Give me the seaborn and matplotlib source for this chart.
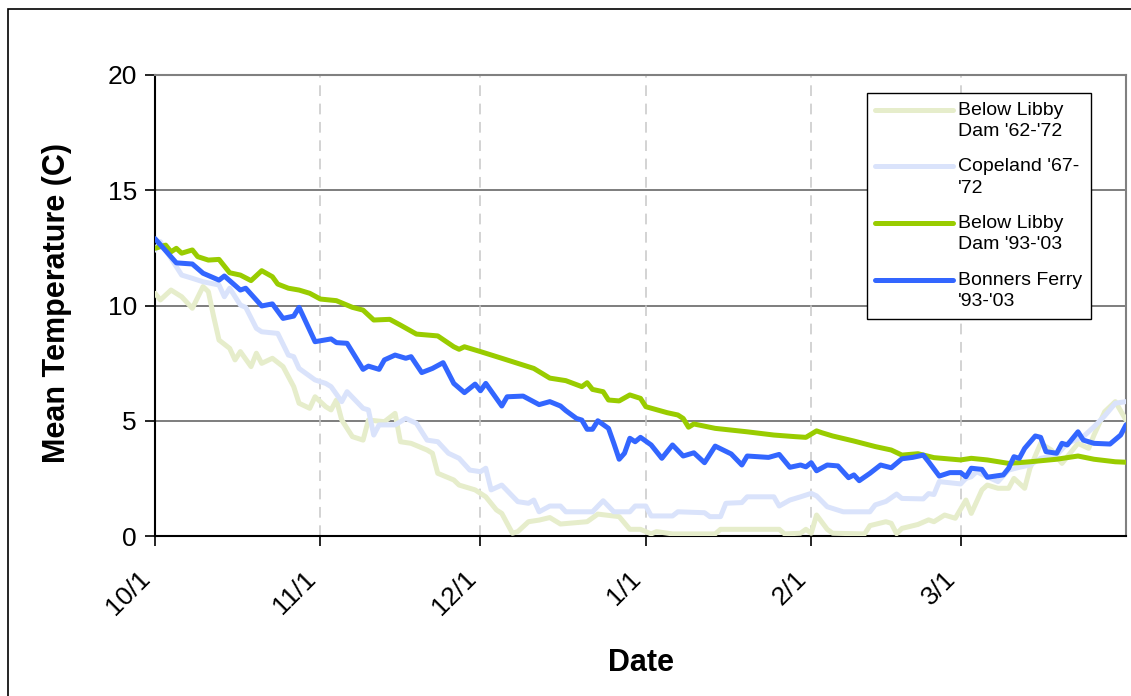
import pandas as pd
import matplotlib.pyplot as plt
import matplotlib.patches as mpatches
from matplotlib.legend_handler import HandlerLine2D
from matplotlib.transforms import ScaledTranslation
import seaborn as sns

sns.set_theme(style='white')
plt.rcParams['font.family'] = ['Liberation Sans', 'DejaVu Sans']
plt.rcParams['text.color'] = 'black'
plt.rcParams['axes.labelcolor'] = 'black'
plt.rcParams['xtick.color'] = 'black'
plt.rcParams['ytick.color'] = 'black'

# ---- data: day = days after 10/1, temp in C ----
libby62_day = [0, 1, 3, 5, 7, 9, 10, 11, 12, 14, 15, 16, 18, 19, 20, 22, 24, 26, 27, 29,
               30, 32, 33, 34, 35, 37, 39, 40, 43, 45, 46, 48, 51, 52, 53, 56, 57, 60, 62, 64,
               65, 67, 68, 70, 72, 74, 76, 81, 83, 87, 89, 91, 93, 94, 97, 105, 106, 117, 118, 121,
               122, 123, 124, 126, 127, 133, 134, 137, 138, 139, 140, 143, 145, 146, 148, 150, 152, 153, 154, 155,
               156, 158, 160, 161, 163, 164, 166, 168, 170, 173, 175, 176, 178, 180, 182]
libby62_temp = [10.53, 10.24, 10.67, 10.38, 9.88, 10.82, 10.6, 9.51, 8.5, 8.14, 7.64, 8.0, 7.35, 7.93, 7.49, 7.71, 7.35, 6.48, 5.76, 5.54,
                6.04, 5.61, 5.47, 5.9, 5.03, 4.31, 4.16, 5.03, 4.96, 5.32, 4.09, 4.02, 3.73, 3.59, 2.72, 2.43, 2.21, 2.0, 1.7, 1.13,
                0.98, 0.12, 0.19, 0.62, 0.69, 0.8, 0.52, 0.62, 0.95, 0.84, 0.29, 0.29, 0.09, 0.19, 0.09, 0.09, 0.29, 0.29, 0.09, 0.12,
                0.29, 0.12, 0.91, 0.29, 0.12, 0.09, 0.45, 0.62, 0.55, 0.1, 0.33, 0.5, 0.7, 0.62, 0.91, 0.77, 1.56, 0.98, 1.49, 2.0,
                2.21, 2.07, 2.07, 2.5, 2.07, 2.94, 4.02, 3.73, 3.15, 4.02, 3.8, 4.38, 5.39, 5.83, 5.03]

copeland_day = [0, 1, 5, 7, 9, 12, 13, 14, 16, 17, 19, 20, 23, 25, 26, 27, 30, 32, 33, 35,
                36, 39, 40, 41, 42, 45, 47, 49, 51, 53, 55, 57, 59, 61, 62, 63, 65, 68, 70, 71,
                72, 74, 76, 77, 82, 84, 86, 89, 90, 92, 93, 97, 98, 103, 104, 106, 107, 110, 111, 116,
                117, 119, 121, 123, 124, 126, 129, 134, 135, 137, 139, 140, 144, 145, 146, 147, 149, 151, 152, 153,
                154, 156, 158, 160, 162, 164, 166, 169, 171, 174, 176, 178, 180, 182]
copeland_temp = [12.4, 12.77, 11.32, 11.18, 11.03, 10.89, 10.38, 10.75, 10.02, 9.92, 9.01, 8.86, 8.79, 7.85, 7.78, 7.27, 6.77, 6.62, 6.48, 5.83,
                 6.26, 5.54, 5.47, 4.38, 4.82, 4.82, 5.1, 4.89, 4.16, 4.09, 3.59, 3.37, 2.86, 2.79, 2.94, 2.0, 2.21, 1.49, 1.42, 1.56,
                 1.05, 1.3, 1.3, 1.05, 1.05, 1.53, 1.05, 1.05, 1.3, 1.3, 0.87, 0.87, 1.05, 1.01, 0.84, 0.84, 1.42, 1.45, 1.7, 1.7,
                 1.3, 1.56, 1.7, 1.85, 1.74, 1.27, 1.05, 1.05, 1.35, 1.5, 1.82, 1.63, 1.61, 1.84, 1.8, 2.36, 2.31, 2.26, 2.5, 2.57,
                 2.79, 2.57, 2.36, 2.86, 2.98, 3.08, 3.37, 3.51, 4.02, 4.31, 4.74, 5.21, 5.76, 5.83]

libby93_day = [0, 2, 3, 4, 5, 7, 8, 10, 12, 14, 16, 18, 20, 22, 23, 25, 27, 29, 31, 34,
               37, 39, 41, 44, 46, 49, 53, 56, 57, 58, 61, 65, 68, 71, 74, 77, 80, 81, 82, 84,
               85, 87, 89, 91, 92, 96, 98, 99, 100, 101, 105, 111, 116, 120, 122, 124, 125, 127, 131, 135,
               138, 140, 143, 146, 151, 153, 156, 160, 164, 169, 173, 176, 180, 182]
libby93_temp = [12.48, 12.62, 12.33, 12.48, 12.27, 12.41, 12.12, 11.97, 12.0, 11.42, 11.32, 11.08, 11.51, 11.25, 10.93, 10.75, 10.67, 10.53, 10.28, 10.21,
                9.92, 9.8, 9.37, 9.4, 9.15, 8.76, 8.68, 8.21, 8.1, 8.21, 8.0, 7.71, 7.49, 7.27, 6.85, 6.74, 6.48, 6.65, 6.36, 6.26,
                5.9, 5.86, 6.12, 5.97, 5.61, 5.35, 5.25, 5.1, 4.72, 4.86, 4.67, 4.52, 4.38, 4.31, 4.28, 4.56, 4.48, 4.34, 4.12, 3.88,
                3.73, 3.51, 3.57, 3.4, 3.3, 3.37, 3.3, 3.15, 3.22, 3.33, 3.47, 3.33, 3.22, 3.2]

bonners_day = [0, 4, 7, 9, 12, 13, 16, 17, 20, 22, 24, 26, 27, 30, 33, 34, 36, 39, 40, 42,
               43, 45, 47, 48, 50, 52, 54, 56, 58, 60, 61, 62, 65, 66, 69, 72, 74, 76, 77, 79,
               80, 81, 82, 83, 85, 86, 87, 88, 89, 90, 91, 93, 95, 97, 99, 101, 103, 105, 108, 110,
               111, 115, 117, 119, 121, 122, 123, 124, 126, 128, 130, 131, 132, 134, 136, 138, 140, 142, 144, 145,
               147, 149, 151, 152, 153, 155, 156, 159, 160, 161, 162, 163, 165, 166, 167, 169, 170, 171, 173, 174,
               176, 179, 181, 182]
bonners_temp = [12.9, 11.85, 11.8, 11.4, 11.1, 11.28, 10.67, 10.75, 9.98, 10.07, 9.44, 9.54, 9.92, 8.43, 8.55, 8.39, 8.36, 7.23, 7.37, 7.23,
                7.64, 7.85, 7.71, 7.78, 7.09, 7.27, 7.52, 6.62, 6.22, 6.59, 6.3, 6.62, 5.64, 6.04, 6.07, 5.7, 5.83, 5.64, 5.44, 5.1,
                5.03, 4.63, 4.63, 5.0, 4.67, 4.02, 3.33, 3.59, 4.24, 4.09, 4.28, 3.95, 3.37, 3.95, 3.47, 3.61, 3.18, 3.9, 3.56, 3.08,
                3.47, 3.41, 3.54, 2.98, 3.08, 3.0, 3.18, 2.83, 3.08, 3.04, 2.53, 2.65, 2.4, 2.72, 3.08, 2.96, 3.35, 3.41, 3.51, 3.22,
                2.6, 2.75, 2.75, 2.57, 2.94, 2.89, 2.55, 2.65, 2.94, 3.44, 3.37, 3.8, 4.34, 4.28, 3.66, 3.59, 4.02, 3.95, 4.52, 4.16,
                4.02, 3.99, 4.38, 4.82]

series_names = ["Below Libby\nDam '62-'72", "Copeland '67-\n'72",
                "Below Libby\nDam '93-'03", "Bonners Ferry\n'93-'03"]
series_colors = ['#E6EDCB', '#DAE3FB', '#99CC00', '#3366FF']

month_days = [0, 31, 61, 92, 123, 151]
month_labels = ['10/1', '11/1', '12/1', '1/1', '2/1', '3/1']
y_ticks = [0, 5, 10, 15, 20]


# excel puts the legend line next to the first text line, not the middle
class TopLineHandler(HandlerLine2D):
    def create_artists(self, legend, orig_handle, xdescent, ydescent,
                       width, height, fontsize, trans):
        arts = super().create_artists(legend, orig_handle, xdescent, ydescent,
                                      width, height, fontsize, trans)
        for a in arts:
            a.set_ydata([y + 0.55 * fontsize for y in a.get_ydata()])
        return arts


# long table for seaborn
frames = []
for name, d, t in zip(series_names,
                      [libby62_day, copeland_day, libby93_day, bonners_day],
                      [libby62_temp, copeland_temp, libby93_temp, bonners_temp]):
    frames.append(pd.DataFrame({'day': d, 'temp': t, 'series': name}))
df = pd.concat(frames, ignore_index=True)

W, H = 1131, 696
fig = plt.figure(figsize=(W / 100, H / 100), dpi=100)
ax = fig.add_axes([155 / W, 160 / H, 971 / W, 461 / H])

sns.lineplot(data=df, x='day', y='temp', hue='series', hue_order=series_names,
             palette=dict(zip(series_names, series_colors)), linewidth=3.6,
             estimator=None, sort=False, solid_joinstyle='round', ax=ax, zorder=3)

# grid like excel: solid horizontal, dashed vertical
for y in y_ticks[1:]:
    ax.axhline(y, color='#5A5A5A', lw=1.1, zorder=1)
for d in month_days[1:]:
    ax.axvline(d, color='#C8C8C8', lw=1.1, ls=(0, (7, 5)), zorder=1)

ax.set_xlim(0, 182)
ax.set_ylim(0, 20)
ax.set_yticks(y_ticks)
ax.set_xticks(month_days)
ax.set_xticklabels(month_labels, rotation=45, ha='right', va='top')
for lbl in ax.get_xticklabels():
    lbl.set_transform(lbl.get_transform() + ScaledTranslation(-0.18, 0, fig.dpi_scale_trans))

ax.tick_params(axis='both', direction='out', length=7, width=1.2, color='black',
               labelsize=19, labelcolor='black', bottom=True, left=True)
ax.tick_params(axis='x', pad=15)
ax.tick_params(axis='y', pad=6)

for side in ['left', 'bottom']:
    ax.spines[side].set_color('black')
    ax.spines[side].set_linewidth(1.5)
for side in ['top', 'right']:
    ax.spines[side].set_color('#808080')
    ax.spines[side].set_linewidth(1.5)

ax.set_ylabel('Mean Temperature (C)', fontsize=22, fontweight='bold', color='black')
ax.set_xlabel('Date', fontsize=22, fontweight='bold', color='black')
ax.yaxis.set_label_coords(-0.0855, 0.505)
ax.xaxis.set_label_coords(0.5, -0.243)
ax.xaxis.label.set_va('top')

handles, labels = ax.get_legend_handles_labels()
leg = ax.legend(handles, labels, loc='upper left', bbox_to_anchor=(0.733, 0.961),
                borderaxespad=0, fontsize=14, frameon=True, fancybox=False,
                edgecolor='black', framealpha=1, handlelength=4.0, handletextpad=0.25,
                borderpad=0.45, labelspacing=0.95,
                handler_map={h: TopLineHandler() for h in handles})
leg.get_frame().set_linewidth(1.0)
for txt in leg.get_texts():
    txt.set_linespacing(1.32)
    txt.set_color('black')
for h in leg.get_lines():
    h.set_linewidth(3.6)

# outer chart border
fig.patches.append(mpatches.Rectangle((8 / W, -0.05), 1.2, 1 - 9 / H + 0.05,
                                      transform=fig.transFigure, fill=False,
                                      edgecolor='black', lw=1.2))

fig.savefig('out.png', dpi=100)
